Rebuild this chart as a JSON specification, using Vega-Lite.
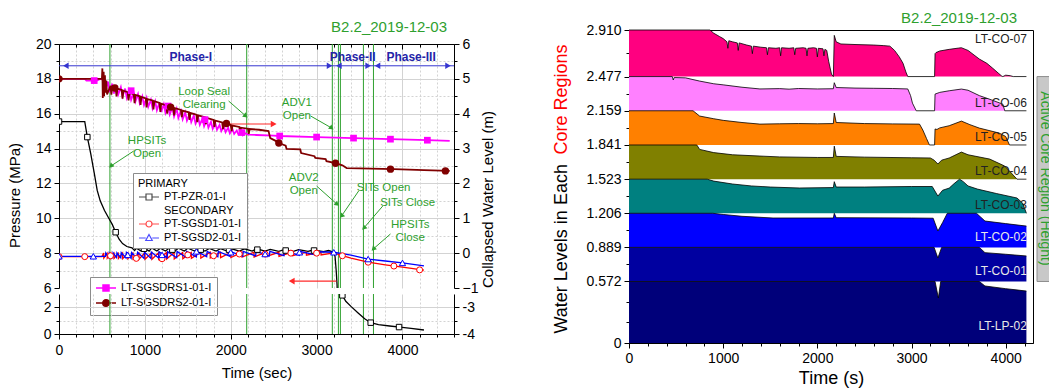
{
"$schema":"https://vega.github.io/schema/vega-lite/v6.json",
"background":"white",
"padding":{"left":7,"top":10,"right":0,"bottom":0},
"config":{"font":"Liberation Sans","view":{"stroke":null},
"axis":{"labelFont":"Liberation Sans","titleFont":"Liberation Sans","labelFontSize":14,"titleFontSize":15,"titleFontWeight":"normal","labelColor":"black","titleColor":"black","domainColor":"black","tickColor":"black","grid":false,"labelOverlap":false,"labelFlush":false,"labelBound":false},
"legend":{"labelFont":"Liberation Sans","labelFontSize":11,"labelColor":"black","titleFont":"Liberation Sans"},
"title":{"font":"Liberation Sans","fontWeight":"normal"}},
"datasets":{
"pres":[
{"s":"PT-PZR-01-I","t":0,"v":15.55},{"s":"PT-PZR-01-I","t":300,"v":15.55},{"s":"PT-PZR-01-I","t":330,"v":14.66},{"s":"PT-PZR-01-I","t":370,"v":13.7},{"s":"PT-PZR-01-I","t":410,"v":12.6},{"s":"PT-PZR-01-I","t":445,"v":11.6},{"s":"PT-PZR-01-I","t":480,"v":11.0},{"s":"PT-PZR-01-I","t":530,"v":10.45},{"s":"PT-PZR-01-I","t":580,"v":10.0},{"s":"PT-PZR-01-I","t":620,"v":9.65},{"s":"PT-PZR-01-I","t":660,"v":9.2},{"s":"PT-PZR-01-I","t":700,"v":8.8},{"s":"PT-PZR-01-I","t":740,"v":8.55},{"s":"PT-PZR-01-I","t":790,"v":8.38},{"s":"PT-PZR-01-I","t":850,"v":8.3},{"s":"PT-PZR-01-I","t":880,"v":8.15},{"s":"PT-PZR-01-I","t":900,"v":8.28},{"s":"PT-PZR-01-I","t":960,"v":8.12},{"s":"PT-PZR-01-I","t":990,"v":8.3},{"s":"PT-PZR-01-I","t":1050,"v":8.12},{"s":"PT-PZR-01-I","t":1080,"v":8.3},{"s":"PT-PZR-01-I","t":1140,"v":8.12},{"s":"PT-PZR-01-I","t":1180,"v":8.28},{"s":"PT-PZR-01-I","t":1240,"v":8.12},{"s":"PT-PZR-01-I","t":1280,"v":8.28},{"s":"PT-PZR-01-I","t":1350,"v":8.12},{"s":"PT-PZR-01-I","t":1390,"v":8.28},{"s":"PT-PZR-01-I","t":1460,"v":8.12},{"s":"PT-PZR-01-I","t":1500,"v":8.28},{"s":"PT-PZR-01-I","t":1580,"v":8.12},{"s":"PT-PZR-01-I","t":1620,"v":8.27},{"s":"PT-PZR-01-I","t":1700,"v":8.12},{"s":"PT-PZR-01-I","t":1750,"v":8.27},{"s":"PT-PZR-01-I","t":1830,"v":8.12},{"s":"PT-PZR-01-I","t":1880,"v":8.26},{"s":"PT-PZR-01-I","t":1960,"v":8.12},{"s":"PT-PZR-01-I","t":2010,"v":8.25},{"s":"PT-PZR-01-I","t":2100,"v":8.12},{"s":"PT-PZR-01-I","t":2160,"v":8.25},{"s":"PT-PZR-01-I","t":2250,"v":8.12},{"s":"PT-PZR-01-I","t":2300,"v":8.25},{"s":"PT-PZR-01-I","t":2400,"v":8.12},{"s":"PT-PZR-01-I","t":2460,"v":8.22},{"s":"PT-PZR-01-I","t":2560,"v":8.1},{"s":"PT-PZR-01-I","t":2620,"v":8.2},{"s":"PT-PZR-01-I","t":2730,"v":8.1},{"s":"PT-PZR-01-I","t":2790,"v":8.2},{"s":"PT-PZR-01-I","t":2900,"v":8.1},{"s":"PT-PZR-01-I","t":2960,"v":8.18},{"s":"PT-PZR-01-I","t":3080,"v":8.08},{"s":"PT-PZR-01-I","t":3140,"v":8.15},{"s":"PT-PZR-01-I","t":3200,"v":8.05},{"s":"PT-PZR-01-I","t":3215,"v":7.8},{"s":"PT-PZR-01-I","t":3228,"v":7.0},{"s":"PT-PZR-01-I","t":3238,"v":6.2},{"s":"PT-PZR-01-I","t":3250,"v":4.6},{"s":"PT-PZR-01-I","t":3265,"v":3.4},{"s":"PT-PZR-01-I","t":3300,"v":2.9},{"s":"PT-PZR-01-I","t":3340,"v":2.45},{"s":"PT-PZR-01-I","t":3400,"v":2.07},{"s":"PT-PZR-01-I","t":3480,"v":1.6},{"s":"PT-PZR-01-I","t":3560,"v":1.15},{"s":"PT-PZR-01-I","t":3630,"v":0.85},{"s":"PT-PZR-01-I","t":3720,"v":0.7},{"s":"PT-PZR-01-I","t":3850,"v":0.6},{"s":"PT-PZR-01-I","t":3970,"v":0.52},{"s":"PT-PZR-01-I","t":4100,"v":0.42},{"s":"PT-PZR-01-I","t":4250,"v":0.3},
{"s":"PT-SGSD1-01-I","t":0,"v":7.8},{"s":"PT-SGSD1-01-I","t":500,"v":7.8},{"s":"PT-SGSD1-01-I","t":520,"v":8.0},{"s":"PT-SGSD1-01-I","t":522,"v":7.72},{"s":"PT-SGSD1-01-I","t":560,"v":7.98},{"s":"PT-SGSD1-01-I","t":562,"v":7.72},{"s":"PT-SGSD1-01-I","t":600,"v":7.98},{"s":"PT-SGSD1-01-I","t":602,"v":7.72},{"s":"PT-SGSD1-01-I","t":640,"v":7.98},{"s":"PT-SGSD1-01-I","t":642,"v":7.7},{"s":"PT-SGSD1-01-I","t":690,"v":7.98},{"s":"PT-SGSD1-01-I","t":692,"v":7.7},{"s":"PT-SGSD1-01-I","t":740,"v":8.0},{"s":"PT-SGSD1-01-I","t":742,"v":7.68},{"s":"PT-SGSD1-01-I","t":800,"v":8.0},{"s":"PT-SGSD1-01-I","t":802,"v":7.68},{"s":"PT-SGSD1-01-I","t":860,"v":8.0},{"s":"PT-SGSD1-01-I","t":862,"v":7.66},{"s":"PT-SGSD1-01-I","t":930,"v":8.0},{"s":"PT-SGSD1-01-I","t":932,"v":7.66},{"s":"PT-SGSD1-01-I","t":1000,"v":8.02},{"s":"PT-SGSD1-01-I","t":1002,"v":7.65},{"s":"PT-SGSD1-01-I","t":1080,"v":8.02},{"s":"PT-SGSD1-01-I","t":1082,"v":7.65},{"s":"PT-SGSD1-01-I","t":1160,"v":8.02},{"s":"PT-SGSD1-01-I","t":1162,"v":7.65},{"s":"PT-SGSD1-01-I","t":1250,"v":8.03},{"s":"PT-SGSD1-01-I","t":1252,"v":7.66},{"s":"PT-SGSD1-01-I","t":1340,"v":8.03},{"s":"PT-SGSD1-01-I","t":1342,"v":7.67},{"s":"PT-SGSD1-01-I","t":1440,"v":8.04},{"s":"PT-SGSD1-01-I","t":1442,"v":7.68},{"s":"PT-SGSD1-01-I","t":1540,"v":8.04},{"s":"PT-SGSD1-01-I","t":1542,"v":7.7},{"s":"PT-SGSD1-01-I","t":1650,"v":8.05},{"s":"PT-SGSD1-01-I","t":1652,"v":7.72},{"s":"PT-SGSD1-01-I","t":1760,"v":8.05},{"s":"PT-SGSD1-01-I","t":1762,"v":7.73},{"s":"PT-SGSD1-01-I","t":1880,"v":8.05},{"s":"PT-SGSD1-01-I","t":1882,"v":7.74},{"s":"PT-SGSD1-01-I","t":2000,"v":8.05},{"s":"PT-SGSD1-01-I","t":2002,"v":7.75},{"s":"PT-SGSD1-01-I","t":2130,"v":8.05},{"s":"PT-SGSD1-01-I","t":2132,"v":7.77},{"s":"PT-SGSD1-01-I","t":2270,"v":8.05},{"s":"PT-SGSD1-01-I","t":2272,"v":7.78},{"s":"PT-SGSD1-01-I","t":2410,"v":8.05},{"s":"PT-SGSD1-01-I","t":2412,"v":7.8},{"s":"PT-SGSD1-01-I","t":2560,"v":8.05},{"s":"PT-SGSD1-01-I","t":2562,"v":7.82},{"s":"PT-SGSD1-01-I","t":2720,"v":8.06},{"s":"PT-SGSD1-01-I","t":2722,"v":7.85},{"s":"PT-SGSD1-01-I","t":2880,"v":8.06},{"s":"PT-SGSD1-01-I","t":2882,"v":7.88},{"s":"PT-SGSD1-01-I","t":3050,"v":8.06},{"s":"PT-SGSD1-01-I","t":3052,"v":7.9},{"s":"PT-SGSD1-01-I","t":3200,"v":8.02},{"s":"PT-SGSD1-01-I","t":3280,"v":7.88},{"s":"PT-SGSD1-01-I","t":3400,"v":7.72},{"s":"PT-SGSD1-01-I","t":3600,"v":7.48},{"s":"PT-SGSD1-01-I","t":3800,"v":7.33},{"s":"PT-SGSD1-01-I","t":4000,"v":7.2},{"s":"PT-SGSD1-01-I","t":4250,"v":7.02},
{"s":"PT-SGSD2-01-I","t":0,"v":7.82},{"s":"PT-SGSD2-01-I","t":540,"v":7.82},{"s":"PT-SGSD2-01-I","t":545,"v":8.02},{"s":"PT-SGSD2-01-I","t":580,"v":7.75},{"s":"PT-SGSD2-01-I","t":585,"v":8.02},{"s":"PT-SGSD2-01-I","t":625,"v":7.75},{"s":"PT-SGSD2-01-I","t":630,"v":8.02},{"s":"PT-SGSD2-01-I","t":670,"v":7.75},{"s":"PT-SGSD2-01-I","t":675,"v":8.02},{"s":"PT-SGSD2-01-I","t":720,"v":7.73},{"s":"PT-SGSD2-01-I","t":725,"v":8.03},{"s":"PT-SGSD2-01-I","t":780,"v":7.72},{"s":"PT-SGSD2-01-I","t":785,"v":8.04},{"s":"PT-SGSD2-01-I","t":840,"v":7.7},{"s":"PT-SGSD2-01-I","t":845,"v":8.04},{"s":"PT-SGSD2-01-I","t":910,"v":7.7},{"s":"PT-SGSD2-01-I","t":915,"v":8.05},{"s":"PT-SGSD2-01-I","t":990,"v":7.7},{"s":"PT-SGSD2-01-I","t":995,"v":8.06},{"s":"PT-SGSD2-01-I","t":1070,"v":7.7},{"s":"PT-SGSD2-01-I","t":1075,"v":8.06},{"s":"PT-SGSD2-01-I","t":1160,"v":7.72},{"s":"PT-SGSD2-01-I","t":1165,"v":8.08},{"s":"PT-SGSD2-01-I","t":1260,"v":7.73},{"s":"PT-SGSD2-01-I","t":1265,"v":8.08},{"s":"PT-SGSD2-01-I","t":1370,"v":7.74},{"s":"PT-SGSD2-01-I","t":1375,"v":8.1},{"s":"PT-SGSD2-01-I","t":1480,"v":7.76},{"s":"PT-SGSD2-01-I","t":1485,"v":8.1},{"s":"PT-SGSD2-01-I","t":1600,"v":7.78},{"s":"PT-SGSD2-01-I","t":1605,"v":8.1},{"s":"PT-SGSD2-01-I","t":1720,"v":7.8},{"s":"PT-SGSD2-01-I","t":1725,"v":8.1},{"s":"PT-SGSD2-01-I","t":1850,"v":7.8},{"s":"PT-SGSD2-01-I","t":1855,"v":8.1},{"s":"PT-SGSD2-01-I","t":1990,"v":7.82},{"s":"PT-SGSD2-01-I","t":1995,"v":8.1},{"s":"PT-SGSD2-01-I","t":2140,"v":7.82},{"s":"PT-SGSD2-01-I","t":2145,"v":8.1},{"s":"PT-SGSD2-01-I","t":2290,"v":7.84},{"s":"PT-SGSD2-01-I","t":2295,"v":8.1},{"s":"PT-SGSD2-01-I","t":2450,"v":7.85},{"s":"PT-SGSD2-01-I","t":2455,"v":8.1},{"s":"PT-SGSD2-01-I","t":2620,"v":7.86},{"s":"PT-SGSD2-01-I","t":2625,"v":8.1},{"s":"PT-SGSD2-01-I","t":2800,"v":7.88},{"s":"PT-SGSD2-01-I","t":2805,"v":8.1},{"s":"PT-SGSD2-01-I","t":2990,"v":7.9},{"s":"PT-SGSD2-01-I","t":2995,"v":8.08},{"s":"PT-SGSD2-01-I","t":3200,"v":8.05},{"s":"PT-SGSD2-01-I","t":3400,"v":7.88},{"s":"PT-SGSD2-01-I","t":3600,"v":7.66},{"s":"PT-SGSD2-01-I","t":3800,"v":7.55},{"s":"PT-SGSD2-01-I","t":4000,"v":7.44},{"s":"PT-SGSD2-01-I","t":4250,"v":7.27}
],
"pmk":[
{"s":"PT-PZR-01-I","t":0,"v":15.55},{"s":"PT-PZR-01-I","t":330,"v":14.66},{"s":"PT-PZR-01-I","t":660,"v":9.2},{"s":"PT-PZR-01-I","t":990,"v":8.25},{"s":"PT-PZR-01-I","t":1320,"v":8.2},{"s":"PT-PZR-01-I","t":1650,"v":8.2},{"s":"PT-PZR-01-I","t":1980,"v":8.2},{"s":"PT-PZR-01-I","t":2310,"v":8.2},{"s":"PT-PZR-01-I","t":2640,"v":8.15},{"s":"PT-PZR-01-I","t":2970,"v":8.15},{"s":"PT-PZR-01-I","t":3300,"v":2.9},{"s":"PT-PZR-01-I","t":3630,"v":0.85},{"s":"PT-PZR-01-I","t":3960,"v":0.52},
{"s":"PT-SGSD1-01-I","t":0,"v":7.8},{"s":"PT-SGSD1-01-I","t":300,"v":7.8},{"s":"PT-SGSD1-01-I","t":600,"v":7.85},{"s":"PT-SGSD1-01-I","t":900,"v":7.7},{"s":"PT-SGSD1-01-I","t":1200,"v":7.68},{"s":"PT-SGSD1-01-I","t":1500,"v":7.9},{"s":"PT-SGSD1-01-I","t":1800,"v":7.85},{"s":"PT-SGSD1-01-I","t":2100,"v":7.95},{"s":"PT-SGSD1-01-I","t":2400,"v":7.95},{"s":"PT-SGSD1-01-I","t":2700,"v":8.0},{"s":"PT-SGSD1-01-I","t":3000,"v":8.0},{"s":"PT-SGSD1-01-I","t":3300,"v":7.85},{"s":"PT-SGSD1-01-I","t":3600,"v":7.48},{"s":"PT-SGSD1-01-I","t":3900,"v":7.26},{"s":"PT-SGSD1-01-I","t":4200,"v":7.04},
{"s":"PT-SGSD2-01-I","t":0,"v":7.82},{"s":"PT-SGSD2-01-I","t":400,"v":7.82},{"s":"PT-SGSD2-01-I","t":800,"v":7.9},{"s":"PT-SGSD2-01-I","t":1200,"v":7.9},{"s":"PT-SGSD2-01-I","t":1600,"v":8.1},{"s":"PT-SGSD2-01-I","t":2000,"v":8.05},{"s":"PT-SGSD2-01-I","t":2400,"v":7.95},{"s":"PT-SGSD2-01-I","t":2800,"v":8.05},{"s":"PT-SGSD2-01-I","t":3200,"v":8.05},{"s":"PT-SGSD2-01-I","t":3600,"v":7.66},{"s":"PT-SGSD2-01-I","t":4000,"v":7.44}
],
"lv":[
{"s":"LT-SGSDRS1-01-I","t":0,"v":5.0},{"s":"LT-SGSDRS1-01-I","t":300,"v":5.0},{"s":"LT-SGSDRS1-01-I","t":320,"v":4.95},{"s":"LT-SGSDRS1-01-I","t":440,"v":4.95},{"s":"LT-SGSDRS1-01-I","t":480,"v":5.0},{"s":"LT-SGSDRS1-01-I","t":520,"v":4.97},{"s":"LT-SGSDRS1-01-I","t":540,"v":4.7},{"s":"LT-SGSDRS1-01-I","t":570,"v":4.92},{"s":"LT-SGSDRS1-01-I","t":590,"v":4.62},{"s":"LT-SGSDRS1-01-I","t":620,"v":4.86},{"s":"LT-SGSDRS1-01-I","t":640,"v":4.58},{"s":"LT-SGSDRS1-01-I","t":670,"v":4.82},{"s":"LT-SGSDRS1-01-I","t":690,"v":4.55},{"s":"LT-SGSDRS1-01-I","t":720,"v":4.76},{"s":"LT-SGSDRS1-01-I","t":740,"v":4.5},{"s":"LT-SGSDRS1-01-I","t":770,"v":4.72},{"s":"LT-SGSDRS1-01-I","t":790,"v":4.45},{"s":"LT-SGSDRS1-01-I","t":820,"v":4.66},{"s":"LT-SGSDRS1-01-I","t":840,"v":4.4},{"s":"LT-SGSDRS1-01-I","t":870,"v":4.6},{"s":"LT-SGSDRS1-01-I","t":890,"v":4.35},{"s":"LT-SGSDRS1-01-I","t":920,"v":4.56},{"s":"LT-SGSDRS1-01-I","t":940,"v":4.3},{"s":"LT-SGSDRS1-01-I","t":970,"v":4.5},{"s":"LT-SGSDRS1-01-I","t":990,"v":4.25},{"s":"LT-SGSDRS1-01-I","t":1020,"v":4.46},{"s":"LT-SGSDRS1-01-I","t":1040,"v":4.2},{"s":"LT-SGSDRS1-01-I","t":1070,"v":4.4},{"s":"LT-SGSDRS1-01-I","t":1090,"v":4.15},{"s":"LT-SGSDRS1-01-I","t":1120,"v":4.36},{"s":"LT-SGSDRS1-01-I","t":1140,"v":4.1},{"s":"LT-SGSDRS1-01-I","t":1170,"v":4.32},{"s":"LT-SGSDRS1-01-I","t":1190,"v":4.05},{"s":"LT-SGSDRS1-01-I","t":1220,"v":4.27},{"s":"LT-SGSDRS1-01-I","t":1240,"v":4.02},{"s":"LT-SGSDRS1-01-I","t":1270,"v":4.22},{"s":"LT-SGSDRS1-01-I","t":1290,"v":3.98},{"s":"LT-SGSDRS1-01-I","t":1320,"v":4.18},{"s":"LT-SGSDRS1-01-I","t":1340,"v":3.92},{"s":"LT-SGSDRS1-01-I","t":1370,"v":4.14},{"s":"LT-SGSDRS1-01-I","t":1390,"v":3.88},{"s":"LT-SGSDRS1-01-I","t":1420,"v":4.08},{"s":"LT-SGSDRS1-01-I","t":1440,"v":3.84},{"s":"LT-SGSDRS1-01-I","t":1470,"v":4.04},{"s":"LT-SGSDRS1-01-I","t":1490,"v":3.8},{"s":"LT-SGSDRS1-01-I","t":1520,"v":3.99},{"s":"LT-SGSDRS1-01-I","t":1540,"v":3.76},{"s":"LT-SGSDRS1-01-I","t":1570,"v":3.95},{"s":"LT-SGSDRS1-01-I","t":1590,"v":3.72},{"s":"LT-SGSDRS1-01-I","t":1620,"v":3.9},{"s":"LT-SGSDRS1-01-I","t":1640,"v":3.68},{"s":"LT-SGSDRS1-01-I","t":1670,"v":3.86},{"s":"LT-SGSDRS1-01-I","t":1690,"v":3.64},{"s":"LT-SGSDRS1-01-I","t":1720,"v":3.82},{"s":"LT-SGSDRS1-01-I","t":1740,"v":3.6},{"s":"LT-SGSDRS1-01-I","t":1770,"v":3.77},{"s":"LT-SGSDRS1-01-I","t":1790,"v":3.57},{"s":"LT-SGSDRS1-01-I","t":1820,"v":3.73},{"s":"LT-SGSDRS1-01-I","t":1840,"v":3.54},{"s":"LT-SGSDRS1-01-I","t":1870,"v":3.68},{"s":"LT-SGSDRS1-01-I","t":1890,"v":3.5},{"s":"LT-SGSDRS1-01-I","t":1920,"v":3.64},{"s":"LT-SGSDRS1-01-I","t":1940,"v":3.47},{"s":"LT-SGSDRS1-01-I","t":1970,"v":3.6},{"s":"LT-SGSDRS1-01-I","t":1990,"v":3.44},{"s":"LT-SGSDRS1-01-I","t":2020,"v":3.56},{"s":"LT-SGSDRS1-01-I","t":2040,"v":3.42},{"s":"LT-SGSDRS1-01-I","t":2070,"v":3.52},{"s":"LT-SGSDRS1-01-I","t":2090,"v":3.4},{"s":"LT-SGSDRS1-01-I","t":2120,"v":3.48},{"s":"LT-SGSDRS1-01-I","t":2140,"v":3.38},{"s":"LT-SGSDRS1-01-I","t":2170,"v":3.44},{"s":"LT-SGSDRS1-01-I","t":2200,"v":3.4},{"s":"LT-SGSDRS1-01-I","t":2300,"v":3.39},{"s":"LT-SGSDRS1-01-I","t":2500,"v":3.37},{"s":"LT-SGSDRS1-01-I","t":2570,"v":3.36},{"s":"LT-SGSDRS1-01-I","t":3000,"v":3.33},{"s":"LT-SGSDRS1-01-I","t":3430,"v":3.3},{"s":"LT-SGSDRS1-01-I","t":3860,"v":3.27},{"s":"LT-SGSDRS1-01-I","t":4290,"v":3.24},{"s":"LT-SGSDRS1-01-I","t":4550,"v":3.22},
{"s":"LT-SGSDRS2-01-I","t":0,"v":5.0},{"s":"LT-SGSDRS2-01-I","t":500,"v":5.0},{"s":"LT-SGSDRS2-01-I","t":505,"v":5.3},{"s":"LT-SGSDRS2-01-I","t":510,"v":4.45},{"s":"LT-SGSDRS2-01-I","t":520,"v":5.2},{"s":"LT-SGSDRS2-01-I","t":525,"v":4.5},{"s":"LT-SGSDRS2-01-I","t":535,"v":5.1},{"s":"LT-SGSDRS2-01-I","t":540,"v":4.6},{"s":"LT-SGSDRS2-01-I","t":550,"v":4.95},{"s":"LT-SGSDRS2-01-I","t":560,"v":4.55},{"s":"LT-SGSDRS2-01-I","t":600,"v":4.8},{"s":"LT-SGSDRS2-01-I","t":610,"v":4.55},{"s":"LT-SGSDRS2-01-I","t":620,"v":4.78},{"s":"LT-SGSDRS2-01-I","t":660,"v":4.74},{"s":"LT-SGSDRS2-01-I","t":670,"v":4.5},{"s":"LT-SGSDRS2-01-I","t":680,"v":4.72},{"s":"LT-SGSDRS2-01-I","t":730,"v":4.68},{"s":"LT-SGSDRS2-01-I","t":740,"v":4.43},{"s":"LT-SGSDRS2-01-I","t":750,"v":4.66},{"s":"LT-SGSDRS2-01-I","t":800,"v":4.62},{"s":"LT-SGSDRS2-01-I","t":810,"v":4.38},{"s":"LT-SGSDRS2-01-I","t":820,"v":4.6},{"s":"LT-SGSDRS2-01-I","t":870,"v":4.56},{"s":"LT-SGSDRS2-01-I","t":880,"v":4.3},{"s":"LT-SGSDRS2-01-I","t":890,"v":4.54},{"s":"LT-SGSDRS2-01-I","t":940,"v":4.5},{"s":"LT-SGSDRS2-01-I","t":950,"v":4.25},{"s":"LT-SGSDRS2-01-I","t":960,"v":4.48},{"s":"LT-SGSDRS2-01-I","t":1010,"v":4.44},{"s":"LT-SGSDRS2-01-I","t":1020,"v":4.18},{"s":"LT-SGSDRS2-01-I","t":1030,"v":4.42},{"s":"LT-SGSDRS2-01-I","t":1090,"v":4.38},{"s":"LT-SGSDRS2-01-I","t":1100,"v":4.12},{"s":"LT-SGSDRS2-01-I","t":1110,"v":4.36},{"s":"LT-SGSDRS2-01-I","t":1170,"v":4.31},{"s":"LT-SGSDRS2-01-I","t":1180,"v":4.05},{"s":"LT-SGSDRS2-01-I","t":1190,"v":4.29},{"s":"LT-SGSDRS2-01-I","t":1250,"v":4.24},{"s":"LT-SGSDRS2-01-I","t":1260,"v":4.0},{"s":"LT-SGSDRS2-01-I","t":1270,"v":4.22},{"s":"LT-SGSDRS2-01-I","t":1330,"v":4.18},{"s":"LT-SGSDRS2-01-I","t":1340,"v":3.95},{"s":"LT-SGSDRS2-01-I","t":1350,"v":4.16},{"s":"LT-SGSDRS2-01-I","t":1420,"v":4.11},{"s":"LT-SGSDRS2-01-I","t":1430,"v":3.9},{"s":"LT-SGSDRS2-01-I","t":1440,"v":4.09},{"s":"LT-SGSDRS2-01-I","t":1510,"v":4.04},{"s":"LT-SGSDRS2-01-I","t":1520,"v":3.82},{"s":"LT-SGSDRS2-01-I","t":1530,"v":4.02},{"s":"LT-SGSDRS2-01-I","t":1600,"v":3.97},{"s":"LT-SGSDRS2-01-I","t":1610,"v":3.76},{"s":"LT-SGSDRS2-01-I","t":1620,"v":3.95},{"s":"LT-SGSDRS2-01-I","t":1700,"v":3.9},{"s":"LT-SGSDRS2-01-I","t":1710,"v":3.7},{"s":"LT-SGSDRS2-01-I","t":1720,"v":3.88},{"s":"LT-SGSDRS2-01-I","t":1800,"v":3.82},{"s":"LT-SGSDRS2-01-I","t":1810,"v":3.62},{"s":"LT-SGSDRS2-01-I","t":1820,"v":3.8},{"s":"LT-SGSDRS2-01-I","t":1900,"v":3.75},{"s":"LT-SGSDRS2-01-I","t":1910,"v":3.56},{"s":"LT-SGSDRS2-01-I","t":1920,"v":3.73},{"s":"LT-SGSDRS2-01-I","t":2000,"v":3.68},{"s":"LT-SGSDRS2-01-I","t":2010,"v":3.5},{"s":"LT-SGSDRS2-01-I","t":2020,"v":3.66},{"s":"LT-SGSDRS2-01-I","t":2100,"v":3.62},{"s":"LT-SGSDRS2-01-I","t":2110,"v":3.45},{"s":"LT-SGSDRS2-01-I","t":2120,"v":3.6},{"s":"LT-SGSDRS2-01-I","t":2200,"v":3.57},{"s":"LT-SGSDRS2-01-I","t":2210,"v":3.42},{"s":"LT-SGSDRS2-01-I","t":2220,"v":3.56},{"s":"LT-SGSDRS2-01-I","t":2330,"v":3.54},{"s":"LT-SGSDRS2-01-I","t":2440,"v":3.5},{"s":"LT-SGSDRS2-01-I","t":2460,"v":3.3},{"s":"LT-SGSDRS2-01-I","t":2540,"v":3.2},{"s":"LT-SGSDRS2-01-I","t":2560,"v":3.16},{"s":"LT-SGSDRS2-01-I","t":2640,"v":3.08},{"s":"LT-SGSDRS2-01-I","t":2650,"v":2.99},{"s":"LT-SGSDRS2-01-I","t":2810,"v":2.98},{"s":"LT-SGSDRS2-01-I","t":2820,"v":2.87},{"s":"LT-SGSDRS2-01-I","t":2975,"v":2.78},{"s":"LT-SGSDRS2-01-I","t":2985,"v":2.73},{"s":"LT-SGSDRS2-01-I","t":3105,"v":2.7},{"s":"LT-SGSDRS2-01-I","t":3115,"v":2.64},{"s":"LT-SGSDRS2-01-I","t":3220,"v":2.58},{"s":"LT-SGSDRS2-01-I","t":3300,"v":2.52},{"s":"LT-SGSDRS2-01-I","t":3350,"v":2.44},{"s":"LT-SGSDRS2-01-I","t":3500,"v":2.43},{"s":"LT-SGSDRS2-01-I","t":3900,"v":2.41},{"s":"LT-SGSDRS2-01-I","t":4250,"v":2.38},{"s":"LT-SGSDRS2-01-I","t":4550,"v":2.36}
],
"lvmk":[
{"s":"LT-SGSDRS1-01-I","t":410,"v":4.95},{"s":"LT-SGSDRS1-01-I","t":840,"v":4.66},{"s":"LT-SGSDRS1-01-I","t":1270,"v":4.22},{"s":"LT-SGSDRS1-01-I","t":1700,"v":3.83},{"s":"LT-SGSDRS1-01-I","t":2130,"v":3.46},{"s":"LT-SGSDRS1-01-I","t":2570,"v":3.36},{"s":"LT-SGSDRS1-01-I","t":3000,"v":3.33},{"s":"LT-SGSDRS1-01-I","t":3430,"v":3.3},{"s":"LT-SGSDRS1-01-I","t":3860,"v":3.27},{"s":"LT-SGSDRS1-01-I","t":4290,"v":3.24},
{"s":"LT-SGSDRS2-01-I","t":0,"v":5.0},{"s":"LT-SGSDRS2-01-I","t":650,"v":4.74},{"s":"LT-SGSDRS2-01-I","t":1300,"v":4.19},{"s":"LT-SGSDRS2-01-I","t":1950,"v":3.72},{"s":"LT-SGSDRS2-01-I","t":2560,"v":3.16},{"s":"LT-SGSDRS2-01-I","t":3220,"v":2.58},{"s":"LT-SGSDRS2-01-I","t":3860,"v":2.41},{"s":"LT-SGSDRS2-01-I","t":4500,"v":2.36}
],
"ev":[{"t":593},{"t":2186},{"t":3183},{"t":3254},{"t":3277},{"t":3545},{"t":3662}],
"ann":[{"t":1025,"v":14.43,"label":"HPSITs\nOpen"},{"t":1690,"v":17.27,"label":"Loop Seal\nClearing"},{"t":2770,"v":16.59,"label":"ADV1\nOpen"},{"t":2850,"v":12.34,"label":"ADV2\nOpen"},{"t":3780,"v":11.74,"label":"SITs Open"},{"t":4060,"v":10.88,"label":"SITs Close"},{"t":4090,"v":9.62,"label":"HPSITs\nClose"}],
"arr":[{"t":870,"v":13.86,"t2":605,"v2":13.0,"dir":"dl"},{"t":1975,"v":16.73,"t2":2175,"v2":15.87,"dir":"dr"},{"t":2930,"v":15.87,"t2":3175,"v2":15.18,"dir":"dr"},{"t":3000,"v":11.85,"t2":3240,"v2":10.8,"dir":"dr"},{"t":3490,"v":11.57,"t2":3290,"v2":10.13,"dir":"dl"},{"t":3770,"v":10.7,"t2":3550,"v2":9.44,"dir":"dl"},{"t":3860,"v":9.1,"t2":3660,"v2":8.24,"dir":"dl"}],
"redarr":[{"t":1950,"v":15.41,"t2":2500,"v2":15.41,"dir":"right"},{"t":3230,"v":6.4,"t2":2710,"v2":6.4,"dir":"left"}],
"phaseline":[{"t":0,"t2":4600,"v":18.75}],
"phasehead":[{"t":80,"v":18.75,"dir":"left"},{"t":3150,"v":18.75,"dir":"right"},{"t":3260,"v":18.75,"dir":"left"},{"t":3600,"v":18.75,"dir":"right"},{"t":3710,"v":18.75,"dir":"left"},{"t":4530,"v":18.75,"dir":"right"}],
"phaselab":[{"t":1535,"v":19.25,"label":"Phase-I"},{"t":3420,"v":19.25,"label":"Phase-II"},{"t":4100,"v":19.25,"label":"Phase-III"}],
"regions":[{"r":"LT-CO-07","base":2.477,"top":2.91},{"r":"LT-CO-06","base":2.159,"top":2.477},{"r":"LT-CO-05","base":1.841,"top":2.159},{"r":"LT-CO-04","base":1.523,"top":1.841},{"r":"LT-CO-03","base":1.206,"top":1.523},{"r":"LT-CO-02","base":0.889,"top":1.206},{"r":"LT-CO-01","base":0.572,"top":0.889},{"r":"LT-LP-02","base":0,"top":0.572}],
"core":[
{"r":"LT-CO-07","t":0,"l":2.91},{"r":"LT-CO-07","t":860,"l":2.91},{"r":"LT-CO-07","t":900,"l":2.88},{"r":"LT-CO-07","t":960,"l":2.85},{"r":"LT-CO-07","t":1000,"l":2.83},{"r":"LT-CO-07","t":1040,"l":2.8},{"r":"LT-CO-07","t":1050,"l":2.74},{"r":"LT-CO-07","t":1060,"l":2.81},{"r":"LT-CO-07","t":1100,"l":2.8},{"r":"LT-CO-07","t":1150,"l":2.79},{"r":"LT-CO-07","t":1160,"l":2.72},{"r":"LT-CO-07","t":1170,"l":2.79},{"r":"LT-CO-07","t":1250,"l":2.77},{"r":"LT-CO-07","t":1300,"l":2.76},{"r":"LT-CO-07","t":1310,"l":2.69},{"r":"LT-CO-07","t":1320,"l":2.76},{"r":"LT-CO-07","t":1400,"l":2.75},{"r":"LT-CO-07","t":1460,"l":2.745},{"r":"LT-CO-07","t":1470,"l":2.68},{"r":"LT-CO-07","t":1480,"l":2.745},{"r":"LT-CO-07","t":1560,"l":2.74},{"r":"LT-CO-07","t":1600,"l":2.745},{"r":"LT-CO-07","t":1610,"l":2.67},{"r":"LT-CO-07","t":1620,"l":2.745},{"r":"LT-CO-07","t":1700,"l":2.74},{"r":"LT-CO-07","t":1750,"l":2.745},{"r":"LT-CO-07","t":1760,"l":2.68},{"r":"LT-CO-07","t":1770,"l":2.74},{"r":"LT-CO-07","t":1850,"l":2.745},{"r":"LT-CO-07","t":1880,"l":2.74},{"r":"LT-CO-07","t":1890,"l":2.67},{"r":"LT-CO-07","t":1900,"l":2.74},{"r":"LT-CO-07","t":1960,"l":2.745},{"r":"LT-CO-07","t":1990,"l":2.74},{"r":"LT-CO-07","t":2000,"l":2.66},{"r":"LT-CO-07","t":2010,"l":2.74},{"r":"LT-CO-07","t":2060,"l":2.735},{"r":"LT-CO-07","t":2070,"l":2.67},{"r":"LT-CO-07","t":2080,"l":2.73},{"r":"LT-CO-07","t":2100,"l":2.72},{"r":"LT-CO-07","t":2120,"l":2.62},{"r":"LT-CO-07","t":2150,"l":2.5},{"r":"LT-CO-07","t":2170,"l":2.477},{"r":"LT-CO-07","t":2180,"l":2.86},{"r":"LT-CO-07","t":2200,"l":2.8},{"r":"LT-CO-07","t":2250,"l":2.78},{"r":"LT-CO-07","t":2400,"l":2.775},{"r":"LT-CO-07","t":2600,"l":2.77},{"r":"LT-CO-07","t":2700,"l":2.765},{"r":"LT-CO-07","t":2770,"l":2.76},{"r":"LT-CO-07","t":2820,"l":2.72},{"r":"LT-CO-07","t":2870,"l":2.66},{"r":"LT-CO-07","t":2910,"l":2.6},{"r":"LT-CO-07","t":2940,"l":2.52},{"r":"LT-CO-07","t":2960,"l":2.477},{"r":"LT-CO-07","t":3245,"l":2.477},{"r":"LT-CO-07","t":3250,"l":2.69},{"r":"LT-CO-07","t":3260,"l":2.7},{"r":"LT-CO-07","t":3300,"l":2.715},{"r":"LT-CO-07","t":3400,"l":2.73},{"r":"LT-CO-07","t":3500,"l":2.742},{"r":"LT-CO-07","t":3530,"l":2.745},{"r":"LT-CO-07","t":3600,"l":2.72},{"r":"LT-CO-07","t":3720,"l":2.64},{"r":"LT-CO-07","t":3800,"l":2.6},{"r":"LT-CO-07","t":3860,"l":2.556},{"r":"LT-CO-07","t":3920,"l":2.51},{"r":"LT-CO-07","t":3960,"l":2.48},{"r":"LT-CO-07","t":3970,"l":2.477},{"r":"LT-CO-07","t":4000,"l":2.49},{"r":"LT-CO-07","t":4050,"l":2.485},{"r":"LT-CO-07","t":4080,"l":2.477},{"r":"LT-CO-07","t":4220,"l":2.477},
{"r":"LT-CO-06","t":0,"l":2.477},{"r":"LT-CO-06","t":460,"l":2.477},{"r":"LT-CO-06","t":470,"l":2.445},{"r":"LT-CO-06","t":480,"l":2.468},{"r":"LT-CO-06","t":600,"l":2.465},{"r":"LT-CO-06","t":750,"l":2.435},{"r":"LT-CO-06","t":900,"l":2.41},{"r":"LT-CO-06","t":1000,"l":2.4},{"r":"LT-CO-06","t":1200,"l":2.378},{"r":"LT-CO-06","t":1390,"l":2.362},{"r":"LT-CO-06","t":1600,"l":2.365},{"r":"LT-CO-06","t":1700,"l":2.36},{"r":"LT-CO-06","t":1800,"l":2.366},{"r":"LT-CO-06","t":2000,"l":2.362},{"r":"LT-CO-06","t":2170,"l":2.364},{"r":"LT-CO-06","t":2180,"l":2.42},{"r":"LT-CO-06","t":2200,"l":2.375},{"r":"LT-CO-06","t":2400,"l":2.37},{"r":"LT-CO-06","t":2600,"l":2.368},{"r":"LT-CO-06","t":2800,"l":2.366},{"r":"LT-CO-06","t":2960,"l":2.362},{"r":"LT-CO-06","t":2990,"l":2.3},{"r":"LT-CO-06","t":3010,"l":2.23},{"r":"LT-CO-06","t":3050,"l":2.159},{"r":"LT-CO-06","t":3245,"l":2.159},{"r":"LT-CO-06","t":3250,"l":2.314},{"r":"LT-CO-06","t":3300,"l":2.33},{"r":"LT-CO-06","t":3400,"l":2.345},{"r":"LT-CO-06","t":3530,"l":2.361},{"r":"LT-CO-06","t":3600,"l":2.35},{"r":"LT-CO-06","t":3720,"l":2.3},{"r":"LT-CO-06","t":3850,"l":2.26},{"r":"LT-CO-06","t":3970,"l":2.22},{"r":"LT-CO-06","t":3990,"l":2.159},{"r":"LT-CO-06","t":4220,"l":2.159},
{"r":"LT-CO-05","t":0,"l":2.159},{"r":"LT-CO-05","t":680,"l":2.159},{"r":"LT-CO-05","t":750,"l":2.11},{"r":"LT-CO-05","t":900,"l":2.085},{"r":"LT-CO-05","t":1000,"l":2.07},{"r":"LT-CO-05","t":1200,"l":2.05},{"r":"LT-CO-05","t":1390,"l":2.035},{"r":"LT-CO-05","t":1600,"l":2.038},{"r":"LT-CO-05","t":1800,"l":2.04},{"r":"LT-CO-05","t":2000,"l":2.038},{"r":"LT-CO-05","t":2170,"l":2.04},{"r":"LT-CO-05","t":2180,"l":2.138},{"r":"LT-CO-05","t":2200,"l":2.05},{"r":"LT-CO-05","t":2500,"l":2.04},{"r":"LT-CO-05","t":2800,"l":2.037},{"r":"LT-CO-05","t":3085,"l":2.035},{"r":"LT-CO-05","t":3120,"l":1.98},{"r":"LT-CO-05","t":3160,"l":1.9},{"r":"LT-CO-05","t":3190,"l":1.841},{"r":"LT-CO-05","t":3245,"l":1.841},{"r":"LT-CO-05","t":3250,"l":1.99},{"r":"LT-CO-05","t":3270,"l":1.985},{"r":"LT-CO-05","t":3300,"l":2.0},{"r":"LT-CO-05","t":3400,"l":2.02},{"r":"LT-CO-05","t":3530,"l":2.063},{"r":"LT-CO-05","t":3620,"l":2.03},{"r":"LT-CO-05","t":3720,"l":1.998},{"r":"LT-CO-05","t":3930,"l":1.952},{"r":"LT-CO-05","t":4000,"l":1.92},{"r":"LT-CO-05","t":4040,"l":1.841},{"r":"LT-CO-05","t":4220,"l":1.841},
{"r":"LT-CO-04","t":0,"l":1.841},{"r":"LT-CO-04","t":720,"l":1.841},{"r":"LT-CO-04","t":750,"l":1.8},{"r":"LT-CO-04","t":900,"l":1.77},{"r":"LT-CO-04","t":1100,"l":1.75},{"r":"LT-CO-04","t":1390,"l":1.738},{"r":"LT-CO-04","t":1600,"l":1.73},{"r":"LT-CO-04","t":2000,"l":1.725},{"r":"LT-CO-04","t":2170,"l":1.725},{"r":"LT-CO-04","t":2180,"l":1.83},{"r":"LT-CO-04","t":2200,"l":1.735},{"r":"LT-CO-04","t":2500,"l":1.728},{"r":"LT-CO-04","t":3000,"l":1.722},{"r":"LT-CO-04","t":3200,"l":1.72},{"r":"LT-CO-04","t":3240,"l":1.7},{"r":"LT-CO-04","t":3280,"l":1.664},{"r":"LT-CO-04","t":3320,"l":1.7},{"r":"LT-CO-04","t":3400,"l":1.72},{"r":"LT-CO-04","t":3530,"l":1.775},{"r":"LT-CO-04","t":3600,"l":1.75},{"r":"LT-CO-04","t":3830,"l":1.71},{"r":"LT-CO-04","t":3990,"l":1.645},{"r":"LT-CO-04","t":4060,"l":1.58},{"r":"LT-CO-04","t":4120,"l":1.523},{"r":"LT-CO-04","t":4220,"l":1.523},
{"r":"LT-CO-03","t":0,"l":1.523},{"r":"LT-CO-03","t":830,"l":1.523},{"r":"LT-CO-03","t":900,"l":1.505},{"r":"LT-CO-03","t":1100,"l":1.478},{"r":"LT-CO-03","t":1300,"l":1.46},{"r":"LT-CO-03","t":1500,"l":1.45},{"r":"LT-CO-03","t":1810,"l":1.441},{"r":"LT-CO-03","t":2170,"l":1.445},{"r":"LT-CO-03","t":2180,"l":1.5},{"r":"LT-CO-03","t":2200,"l":1.45},{"r":"LT-CO-03","t":2500,"l":1.45},{"r":"LT-CO-03","t":3000,"l":1.455},{"r":"LT-CO-03","t":3220,"l":1.455},{"r":"LT-CO-03","t":3280,"l":1.366},{"r":"LT-CO-03","t":3330,"l":1.42},{"r":"LT-CO-03","t":3400,"l":1.44},{"r":"LT-CO-03","t":3450,"l":1.48},{"r":"LT-CO-03","t":3510,"l":1.523},{"r":"LT-CO-03","t":3550,"l":1.5},{"r":"LT-CO-03","t":3600,"l":1.46},{"r":"LT-CO-03","t":3700,"l":1.431},{"r":"LT-CO-03","t":3900,"l":1.39},{"r":"LT-CO-03","t":4120,"l":1.348},{"r":"LT-CO-03","t":4180,"l":1.3},{"r":"LT-CO-03","t":4220,"l":1.206},
{"r":"LT-CO-02","t":0,"l":1.206},{"r":"LT-CO-02","t":890,"l":1.206},{"r":"LT-CO-02","t":1000,"l":1.195},{"r":"LT-CO-02","t":1200,"l":1.178},{"r":"LT-CO-02","t":1530,"l":1.162},{"r":"LT-CO-02","t":2170,"l":1.162},{"r":"LT-CO-02","t":2180,"l":1.206},{"r":"LT-CO-02","t":2200,"l":1.165},{"r":"LT-CO-02","t":3000,"l":1.162},{"r":"LT-CO-02","t":3230,"l":1.16},{"r":"LT-CO-02","t":3280,"l":1.041},{"r":"LT-CO-02","t":3330,"l":1.12},{"r":"LT-CO-02","t":3380,"l":1.206},{"r":"LT-CO-02","t":3690,"l":1.206},{"r":"LT-CO-02","t":3780,"l":1.134},{"r":"LT-CO-02","t":4000,"l":1.11},{"r":"LT-CO-02","t":4220,"l":1.087},
{"r":"LT-CO-01","t":0,"l":0.889},{"r":"LT-CO-01","t":3240,"l":0.889},{"r":"LT-CO-01","t":3280,"l":0.79},{"r":"LT-CO-01","t":3320,"l":0.889},{"r":"LT-CO-01","t":3720,"l":0.889},{"r":"LT-CO-01","t":3780,"l":0.84},{"r":"LT-CO-01","t":4000,"l":0.825},{"r":"LT-CO-01","t":4220,"l":0.809},
{"r":"LT-LP-02","t":0,"l":0.572},{"r":"LT-LP-02","t":3250,"l":0.572},{"r":"LT-LP-02","t":3285,"l":0.418},{"r":"LT-LP-02","t":3310,"l":0.572},{"r":"LT-LP-02","t":3720,"l":0.572},{"r":"LT-LP-02","t":3780,"l":0.53},{"r":"LT-LP-02","t":4000,"l":0.505},{"r":"LT-LP-02","t":4220,"l":0.483}
]
},
"spacing":56,
"hconcat":[
{"vconcat":[
{"width":395,"height":8,"data":{"values":[]},"mark":{"type":"point","opacity":0}},
{"width":395,"height":244,
"title":{"text":"B2.2_2019-12-03","anchor":"end","frame":"group","color":"#2ea02e","fontSize":15,"offset":2,"dx":-7},
"encoding":{"x":{"field":"t","type":"quantitative","scale":{"domain":[0,4600],"nice":false,"zero":false},
"axis":{"orient":"top","values":[0,200,400,600,800,1000,1200,1400,1600,1800,2000,2200,2400,2600,2800,3000,3200,3400,3600,3800,4000,4200,4400,4600],"labels":false,"title":null,"tickSize":{"condition":{"test":"datum.value % 1000 === 0","value":-5},"value":-3},"grid":true,"gridColor":"#d3d3d3","gridDash":{"condition":{"test":"datum.value % 1000 === 0","value":[]},"value":[2,2]}}}},
"layer":[
{"layer":[
{"data":{"name":"pmk"},"transform":[{"filter":"false"}],"mark":{"type":"point","filled":false,"strokeWidth":1.2},
"encoding":{"y":{"field":"v","type":"quantitative","axis":null},
"color":{"field":"s","type":"nominal","scale":{"domain":["PT-PZR-01-I","SECONDARY","PT-SGSD1-01-I","PT-SGSD2-01-I"],"range":["#000000","#ffffff","#ff0000","#0000ff"]},
"legend":{"orient":"none","legendX":74,"legendY":129,"title":"PRIMARY","titleFontSize":11,"titleFontWeight":"normal","titleColor":"black","titlePadding":2,"padding":5,"strokeColor":"#8c8c8c","fillColor":"white","rowPadding":2,"symbolSize":100,"symbolStrokeWidth":1.2,"symbolFillColor":"white","labelOffset":14,"labelFontSize":11}},
"shape":{"field":"s","type":"nominal","scale":{"domain":["PT-PZR-01-I","SECONDARY","PT-SGSD1-01-I","PT-SGSD2-01-I"],"range":["M-1,0H0.4M1.6,0H3M0.4,-0.6H1.6V0.6H0.4Z","M0,0","M-1,0H0.4M1.6,0H3M1.6,0A0.6,0.6,0,1,1,0.4,0A0.6,0.6,0,1,1,1.6,0Z","M-1,0H0.35M1.65,0H3M1,-0.7L1.65,0.5H0.35Z"]},
"legend":{"orient":"none","legendX":74,"legendY":129,"title":"PRIMARY","titleFontSize":11,"titleFontWeight":"normal","titleColor":"black","titlePadding":2,"padding":5,"strokeColor":"#8c8c8c","fillColor":"white","rowPadding":2,"symbolSize":100,"symbolStrokeWidth":1.2,"symbolFillColor":"white","labelOffset":14,"labelFontSize":11}}}},
{"data":{"name":"ev"},"mark":{"type":"rule","color":"#2ea02e","strokeWidth":1},"encoding":{}},
{"data":{"name":"phaseline"},"mark":{"type":"rule","color":"#3535d0","strokeWidth":1},"encoding":{"x2":{"field":"t2"},"y":{"field":"v","type":"quantitative","axis":null}}},
{"data":{"name":"phasehead"},"transform":[{"filter":"datum.dir === 'left'"}],"mark":{"type":"point","shape":"triangle-left","filled":true,"color":"#3535d0","size":40,"opacity":1},"encoding":{"y":{"field":"v","type":"quantitative","axis":null}}},
{"data":{"name":"phasehead"},"transform":[{"filter":"datum.dir === 'right'"}],"mark":{"type":"point","shape":"triangle-right","filled":true,"color":"#3535d0","size":40,"opacity":1},"encoding":{"y":{"field":"v","type":"quantitative","axis":null}}},
{"data":{"name":"phaselab"},"mark":{"type":"text","color":"#2424a8","fontWeight":"bold","fontSize":12,"baseline":"middle"},"encoding":{"y":{"field":"v","type":"quantitative","axis":null},"text":{"field":"label"}}},
{"data":{"name":"pres"},"mark":{"type":"line","strokeWidth":1.3,"clip":true},
"encoding":{"y":{"field":"v","type":"quantitative","scale":{"domain":[6,20],"nice":false,"zero":false},
"axis":{"orient":"left","values":[6,7,8,9,10,11,12,13,14,15,16,17,18,19,20],"format":"d","labelOverlap":false,"labelExpr":"datum.value % 2 === 0 ? datum.label : ''","tickSize":{"condition":{"test":"datum.value % 2 === 0","value":5},"value":3},"grid":true,"gridColor":"#d3d3d3","gridDash":{"condition":{"test":"datum.value % 2 === 0","value":[]},"value":[2,2]},"gridOpacity":{"condition":{"test":"datum.value === 6 || datum.value === 20","value":0},"value":1},"labelPadding":3,"title":"Pressure (MPa)","titleAngle":270,"titleX":-45,"titleY":151,"titleAlign":"center","titleBaseline":"middle"}},
"color":{"field":"s","type":"nominal"}}},
{"data":{"name":"pmk"},"transform":[{"filter":"datum.s === 'PT-PZR-01-I'"}],"mark":{"type":"point","shape":"square","filled":false,"fill":"white","fillOpacity":1,"size":30,"strokeWidth":1,"clip":true},"encoding":{"y":{"field":"v","type":"quantitative","axis":null},"color":{"field":"s","type":"nominal"}}},
{"data":{"name":"pmk"},"transform":[{"filter":"datum.s === 'PT-SGSD1-01-I'"}],"mark":{"type":"point","shape":"circle","filled":false,"fill":"white","fillOpacity":1,"size":36,"strokeWidth":1,"clip":true},"encoding":{"y":{"field":"v","type":"quantitative","axis":null},"color":{"field":"s","type":"nominal"}}},
{"data":{"name":"pmk"},"transform":[{"filter":"datum.s === 'PT-SGSD2-01-I'"}],"mark":{"type":"point","shape":"triangle-up","filled":false,"fill":"white","fillOpacity":1,"size":40,"strokeWidth":1,"clip":true},"encoding":{"y":{"field":"v","type":"quantitative","axis":null},"color":{"field":"s","type":"nominal"}}},
{"data":{"name":"ann"},"mark":{"type":"text","color":"#2ea02e","fontSize":11.5,"lineBreak":"\n","lineHeight":13,"baseline":"middle"},"encoding":{"y":{"field":"v","type":"quantitative","axis":null},"text":{"field":"label"}}},
{"data":{"name":"arr"},"mark":{"type":"rule","color":"#2ea02e","strokeWidth":1},"encoding":{"x2":{"field":"t2"},"y":{"field":"v","type":"quantitative","axis":null},"y2":{"field":"v2"}}},
{"data":{"name":"arr"},"transform":[{"filter":"datum.dir === 'dl'"}],"mark":{"type":"point","shape":"triangle-up","filled":true,"color":"#2ea02e","size":30,"angle":225,"opacity":1},"encoding":{"x":{"field":"t2","type":"quantitative"},"y":{"field":"v2","type":"quantitative","axis":null}}},
{"data":{"name":"arr"},"transform":[{"filter":"datum.dir === 'dr'"}],"mark":{"type":"point","shape":"triangle-up","filled":true,"color":"#2ea02e","size":30,"angle":128,"opacity":1},"encoding":{"x":{"field":"t2","type":"quantitative"},"y":{"field":"v2","type":"quantitative","axis":null}}},
{"data":{"name":"redarr"},"mark":{"type":"rule","color":"#ff2a2a","strokeWidth":1.2},"encoding":{"x2":{"field":"t2"},"y":{"field":"v","type":"quantitative","axis":null}}},
{"data":{"name":"redarr"},"transform":[{"filter":"datum.dir === 'left'"}],"mark":{"type":"point","shape":"triangle-left","filled":true,"color":"#ff2a2a","size":45,"opacity":1},"encoding":{"x":{"field":"t2","type":"quantitative"},"y":{"field":"v2","type":"quantitative","axis":null}}},
{"data":{"name":"redarr"},"transform":[{"filter":"datum.dir === 'right'"}],"mark":{"type":"point","shape":"triangle-right","filled":true,"color":"#ff2a2a","size":45,"opacity":1},"encoding":{"x":{"field":"t2","type":"quantitative"},"y":{"field":"v2","type":"quantitative","axis":null}}}
],
"resolve":{"axis":{"y":"independent"}}},
{"layer":[
{"data":{"name":"lvmk"},"transform":[{"filter":"false"}],"mark":{"type":"point","filled":true,"opacity":1},
"encoding":{"y":{"field":"v","type":"quantitative","axis":null},
"color":{"field":"s","type":"nominal","scale":{"domain":["LT-SGSDRS1-01-I","LT-SGSDRS2-01-I"],"range":["#ff00ff","#800000"]},
"legend":{"orient":"none","legendX":31,"legendY":233,"title":null,"padding":5,"strokeColor":"#8c8c8c","fillColor":"white","rowPadding":2,"symbolSize":100,"symbolStrokeWidth":1.5,"labelOffset":14,"labelFontSize":11}},
"shape":{"field":"s","type":"nominal","scale":{"domain":["LT-SGSDRS1-01-I","LT-SGSDRS2-01-I"],"range":["M-1,0H3M0.4,-0.6H1.6V0.6H0.4Z","M-1,0H3M1.65,0A0.65,0.65,0,1,1,0.35,0A0.65,0.65,0,1,1,1.65,0Z"]},
"legend":{"orient":"none","legendX":31,"legendY":233,"title":null,"padding":5,"strokeColor":"#8c8c8c","fillColor":"white","rowPadding":2,"symbolSize":100,"symbolStrokeWidth":1.5,"labelOffset":14,"labelFontSize":11}}}},
{"data":{"name":"lv"},"mark":{"type":"line","strokeWidth":1.8,"clip":true},
"encoding":{"y":{"field":"v","type":"quantitative","scale":{"domain":[-1,6],"nice":false,"zero":false},
"axis":{"orient":"right","values":[-1,-0.5,0,0.5,1,1.5,2,2.5,3,3.5,4,4.5,5,5.5,6],"labelOverlap":false,"labelExpr":"datum.value % 1 === 0 ? format(datum.value, 'd') : ''","tickSize":{"condition":{"test":"datum.value % 1 === 0","value":5},"value":3},"labelPadding":3,"title":"Collapsed Water Level (m)","titleAngle":270,"titleX":33,"titleY":155,"titleAlign":"center","titleBaseline":"middle"}},
"color":{"field":"s","type":"nominal"}}},
{"data":{"name":"lvmk"},"transform":[{"filter":"datum.s === 'LT-SGSDRS1-01-I'"}],"mark":{"type":"point","shape":"square","filled":true,"size":45,"opacity":1,"clip":true},"encoding":{"y":{"field":"v","type":"quantitative","axis":null},"color":{"field":"s","type":"nominal"}}},
{"data":{"name":"lvmk"},"transform":[{"filter":"datum.s === 'LT-SGSDRS2-01-I'"}],"mark":{"type":"point","shape":"circle","filled":true,"size":55,"opacity":1,"clip":true},"encoding":{"y":{"field":"v","type":"quantitative","axis":null},"color":{"field":"s","type":"nominal"}}}
],
"resolve":{"axis":{"y":"independent"}}}
],
"resolve":{"scale":{"y":"independent","color":"independent","shape":"independent"}}
},
{"width":395,"height":40,
"encoding":{"x":{"field":"t","type":"quantitative","scale":{"domain":[0,4600],"nice":false,"zero":false},
"axis":{"orient":"bottom","values":[0,200,400,600,800,1000,1200,1400,1600,1800,2000,2200,2400,2600,2800,3000,3200,3400,3600,3800,4000,4200,4400,4600],"format":"d","labelOverlap":false,"labelExpr":"datum.value % 1000 === 0 ? datum.label : ''","tickSize":{"condition":{"test":"datum.value % 1000 === 0","value":5},"value":3},"labelPadding":4,"labelFontSize":14,"grid":true,"gridColor":"#d3d3d3","gridDash":{"condition":{"test":"datum.value % 1000 === 0","value":[]},"value":[2,2]},"title":"Time (sec)","titleFontSize":15,"titlePadding":8}}},
"layer":[
{"data":{"name":"ev"},"mark":{"type":"rule","color":"#2ea02e","strokeWidth":1},"encoding":{}},
{"data":{"name":"pres"},"transform":[{"filter":"datum.s === 'PT-PZR-01-I'"}],"mark":{"type":"line","color":"black","strokeWidth":1.3,"clip":true},
"encoding":{"y":{"field":"v","type":"quantitative","scale":{"domain":[0,3],"nice":false,"zero":false},
"axis":{"orient":"left","values":[0,1,2],"format":"d","labelOverlap":false,"labelExpr":"datum.value % 2 === 0 ? datum.label : ''","tickSize":{"condition":{"test":"datum.value % 2 === 0","value":5},"value":3},"grid":true,"gridColor":"#d3d3d3","gridDash":{"condition":{"test":"datum.value % 2 === 0","value":[]},"value":[2,2]},"gridOpacity":{"condition":{"test":"datum.value === 0","value":0},"value":1},"labelPadding":3,"title":null}}}},
{"data":{"name":"pmk"},"transform":[{"filter":"datum.s === 'PT-PZR-01-I'"}],"mark":{"type":"point","shape":"square","filled":false,"fill":"white","fillOpacity":1,"color":"black","size":30,"strokeWidth":1,"clip":true},
"encoding":{"y":{"field":"v","type":"quantitative","axis":{"orient":"right","values":[0,1,2],"labelOverlap":false,"labelExpr":"datum.value === 0 ? '-4' : datum.value === 2 ? '-3' : ''","tickSize":{"condition":{"test":"datum.value % 2 === 0","value":5},"value":3},"labelPadding":3,"title":null}}}}
],
"resolve":{"axis":{"y":"independent"}}
}
],"spacing":6,"bounds":"flush"},
{"hconcat":[
{"width":404,"height":313,
"view":{"stroke":"black","strokeWidth":1},
"title":{"text":"B2.2_2019-12-03","anchor":"end","color":"#2ea02e","fontSize":15,"offset":-3,"dx":-16},
"layer":[
{"data":{"name":"core"},"transform":[{"lookup":"r","from":{"data":{"name":"regions"},"key":"r","fields":["base"]}}],"mark":{"type":"area","interpolate":"linear","opacity":1},
"encoding":{"x":{"field":"t","type":"quantitative","scale":{"domain":[0,4290],"nice":false,"zero":false},
"axis":{"orient":"bottom","offset":0,"values":[0,1000,2000,3000,4000],"format":"d","labelOverlap":false,"tickSize":5,"labelPadding":3,"labelFontSize":14,"title":"Time (s)","titleFontSize":18,"titlePadding":4}},
"y":{"field":"l","type":"quantitative","scale":{"domain":[0,2.91],"nice":false,"zero":false},
"axis":{"orient":"left","offset":0,"values":[0,0.191,0.381,0.572,0.73,0.889,1.047,1.206,1.365,1.523,1.682,1.841,2.0,2.159,2.318,2.477,2.693,2.91],"labelOverlap":false,"labelExpr":"indexof([0,0.572,0.889,1.206,1.523,1.841,2.159,2.477,2.91], datum.value) >= 0 ? (datum.value === 0 ? '0' : format(datum.value, '.3f')) : ''","tickSize":{"condition":{"test":"indexof([0,0.572,0.889,1.206,1.523,1.841,2.159,2.477,2.91], datum.value) >= 0","value":5},"value":3},"labelPadding":3,"labelFontSize":14,"title":"Water Levels in Each","titleFontSize":18,"titleAngle":270,"titleX":-68,"titleY":303,"titleAlign":"left","titleBaseline":"middle"}},
"y2":{"field":"base"},
"color":{"field":"r","type":"nominal","scale":{"domain":["LT-CO-07","LT-CO-06","LT-CO-05","LT-CO-04","LT-CO-03","LT-CO-02","LT-CO-01","LT-LP-02"],"range":["#ff0080","#ff80ff","#ff8000","#808000","#008080","#0000ff","#0000a0","#00007a"]},"legend":null}}},
{"data":{"name":"core"},"mark":{"type":"line","color":"black","strokeWidth":0.8},
"encoding":{"x":{"field":"t","type":"quantitative","axis":{"orient":"bottom","offset":0,"values":[200,400,600,800,1200,1400,1600,1800,2200,2400,2600,2800,3200,3400,3600,3800,4200],"labels":false,"domain":false,"tickSize":3,"title":null}},"y":{"field":"l","type":"quantitative","axis":{"orient":"left","offset":0,"labels":false,"ticks":false,"domain":false,"title":"Core Regions","titleColor":"#ff0000","titleFontSize":18,"titleAngle":270,"titleX":-68,"titleY":124,"titleAlign":"left","titleBaseline":"middle"}},"detail":{"field":"r"}}},
{"data":{"name":"regions"},"transform":[{"filter":"datum.r === 'LT-CO-07'"}],"mark":{"type":"text","align":"right","baseline":"top","dy":4,"fontSize":12,"color":"#222222"},"encoding":{"x":{"datum":4225,"type":"quantitative","axis":null},"y":{"field":"top","type":"quantitative","axis":null},"text":{"field":"r"}}},
{"data":{"name":"regions"},"transform":[{"filter":"indexof(['LT-CO-06','LT-CO-05','LT-CO-04','LT-CO-03'], datum.r) >= 0"}],"mark":{"type":"text","align":"right","baseline":"alphabetic","dy":-4,"fontSize":12,"color":"#222222"},"encoding":{"x":{"datum":4225,"type":"quantitative","axis":null},"y":{"field":"base","type":"quantitative","axis":null},"text":{"field":"r"}}},
{"data":{"name":"regions"},"transform":[{"filter":"indexof(['LT-CO-02','LT-CO-01'], datum.r) >= 0"}],"mark":{"type":"text","align":"right","baseline":"alphabetic","dy":-6,"fontSize":12,"color":"#e8e8e8"},"encoding":{"x":{"datum":4225,"type":"quantitative","axis":null},"y":{"field":"base","type":"quantitative","axis":null},"text":{"field":"r"}}},
{"data":{"name":"regions"},"transform":[{"filter":"datum.r === 'LT-LP-02'"}],"mark":{"type":"text","align":"right","baseline":"alphabetic","dy":-13,"fontSize":12,"color":"#e8e8e8"},"encoding":{"x":{"datum":4225,"type":"quantitative","axis":null},"y":{"field":"base","type":"quantitative","axis":null},"text":{"field":"r"}}}
],
"resolve":{"axis":{"x":"independent","y":"independent"}}
},
{"width":22,"height":313,
"data":{"values":[{"lo":0.572,"hi":2.477}]},
"layer":[
{"mark":{"type":"rect","fill":"#c8c8c8","stroke":"#8c8c8c","strokeWidth":1},"encoding":{"y":{"field":"lo","type":"quantitative","scale":{"domain":[0,2.91],"nice":false,"zero":false},"axis":null},"y2":{"field":"hi"}}},
{"mark":{"type":"text","angle":90,"color":"#2ea02e","fontSize":14,"align":"center","baseline":"middle","dy":3},"encoding":{"y":{"datum":1.53,"type":"quantitative","axis":null},"text":{"value":"Active Core Region (Height)"}}}
]}
],"spacing":2}
]
}
